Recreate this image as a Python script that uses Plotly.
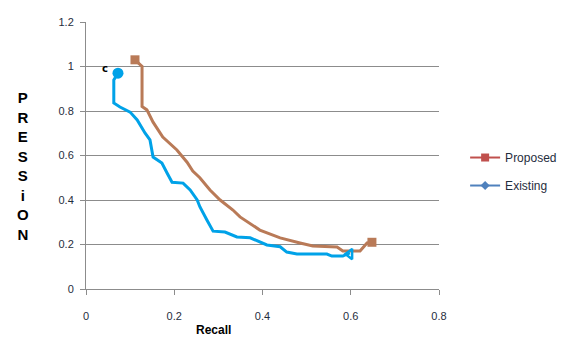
import plotly.graph_objects as go

# Proposed (brown hand-drawn curve)
proposed_recall = [0.111, 0.127, 0.127, 0.138, 0.152, 0.174, 0.206, 0.229, 0.242, 0.258,
                   0.281, 0.304, 0.333, 0.349, 0.394, 0.44, 0.485, 0.514, 0.569, 0.582,
                   0.621, 0.637, 0.648]
proposed_precision = [1.03, 1.0, 0.82, 0.805, 0.75, 0.683, 0.625, 0.57, 0.53, 0.50,
                      0.445, 0.40, 0.355, 0.324, 0.265, 0.23, 0.207, 0.193, 0.189, 0.171,
                      0.171, 0.207, 0.21]

# Existing (blue hand-drawn curve)
existing_recall = [0.0725, 0.063, 0.063, 0.077, 0.10, 0.116, 0.134, 0.145, 0.152, 0.172,
                   0.184, 0.195, 0.22, 0.236, 0.252, 0.258, 0.274, 0.288, 0.315, 0.342,
                   0.372, 0.41, 0.44, 0.455, 0.478, 0.546, 0.557, 0.582, 0.598]
existing_precision = [0.97, 0.94, 0.836, 0.818, 0.795, 0.76, 0.70, 0.67, 0.593, 0.566,
                      0.52, 0.48, 0.476, 0.445, 0.40, 0.37, 0.31, 0.26, 0.256, 0.234,
                      0.23, 0.198, 0.19, 0.166, 0.157, 0.157, 0.148, 0.148, 0.162]

x_ticks = [0, 0.2, 0.4, 0.6, 0.8]
x_tick_labels = ["0", "0.2", "0.4", "0.6", "0.8"]
y_ticks = [0, 0.2, 0.4, 0.6, 0.8, 1.0, 1.2]
y_tick_labels = ["0", "0.2", "0.4", "0.6", "0.8", "1", "1.2"]

BROWN = "#B97A57"
BLUE = "#00A2E8"

fig = go.Figure()

fig.add_trace(go.Scatter(x=proposed_recall, y=proposed_precision, mode="lines",
                         line=dict(color=BROWN, width=3), showlegend=False))
fig.add_trace(go.Scatter(x=existing_recall, y=existing_precision, mode="lines",
                         line=dict(color=BLUE, width=3), showlegend=False))

# endpoint blobs
fig.add_trace(go.Scatter(x=[proposed_recall[0], proposed_recall[-1]],
                         y=[proposed_precision[0], proposed_precision[-1]],
                         mode="markers", marker=dict(symbol="square", size=9, color=BROWN),
                         showlegend=False))
fig.add_trace(go.Scatter(x=[existing_recall[0]], y=[existing_precision[0]],
                         mode="markers", marker=dict(symbol="circle", size=11, color=BLUE),
                         showlegend=False))
fig.add_trace(go.Scatter(x=[existing_recall[-1]], y=[existing_precision[-1] - 0.005],
                         mode="markers",
                         marker=dict(symbol="triangle-left-open", size=9, color=BLUE,
                                     line=dict(width=2.5, color=BLUE)),
                         showlegend=False))

# legend entries
fig.add_trace(go.Scatter(x=[None], y=[None], mode="lines+markers", name="Proposed",
                         legendgroup="a",
                         line=dict(color="#C0504D", width=2),
                         marker=dict(symbol="square", size=8, color="#C0504D")))
fig.add_trace(go.Scatter(x=[None], y=[None], mode="lines+markers", name="Existing",
                         legendgroup="b",
                         line=dict(color="#4F81BD", width=2),
                         marker=dict(symbol="diamond", size=7, color="#4F81BD")))

fig.add_annotation(x=0.043, y=0.99, text="<b>c</b>", showarrow=False,
                   font=dict(family="DejaVu Sans", size=10, color="black"))

fig.add_annotation(xref="paper", yref="paper", x=-0.2, y=0.46,
                   text="<b>P<br>R<br>E<br>S<br>S<br>i<br>O<br>N</b>", showarrow=False,
                   font=dict(family="Liberation Sans, Arial", size=15, color="black"),
                   align="center")
fig.add_annotation(xref="paper", yref="paper", x=0.36, y=-0.155, yanchor="middle",
                   text="<b>Recall</b>", showarrow=False,
                   font=dict(family="Liberation Sans, Arial", size=12, color="black"))

fig.update_layout(
    width=568, height=338,
    margin=dict(l=86, r=129, t=22, b=49, autoexpand=False),
    paper_bgcolor="white", plot_bgcolor="white",
    font=dict(family="Liberation Sans, Arial", size=11, color="#1F2D3D"),
    legend=dict(x=1.074, y=0.44, xanchor="left", yanchor="middle",
                font=dict(size=12, color="#1F2D3D"), tracegroupgap=9,
                traceorder="grouped", bgcolor="rgba(0,0,0,0)"),
    xaxis=dict(range=[0, 0.8], tickvals=x_ticks, ticktext=x_tick_labels,
               showgrid=False, zeroline=False, showline=True, linecolor="#8C8C8C",
               ticks="outside", ticklen=5, tickcolor="#8C8C8C", ticklabelstandoff=12,
               automargin=False),
    yaxis=dict(range=[0, 1.2], tickvals=y_ticks, ticktext=y_tick_labels,
               showgrid=True, gridcolor="#8C8C8C", gridwidth=1, zeroline=False,
               showline=True, linecolor="#8C8C8C",
               ticks="outside", ticklen=5, tickcolor="#8C8C8C", ticklabelstandoff=4,
               automargin=False),
)

fig.write_html("out.html", config={"displayModeBar": False},
               post_script="document.body.style.margin='0';document.body.style.overflow='hidden';")
